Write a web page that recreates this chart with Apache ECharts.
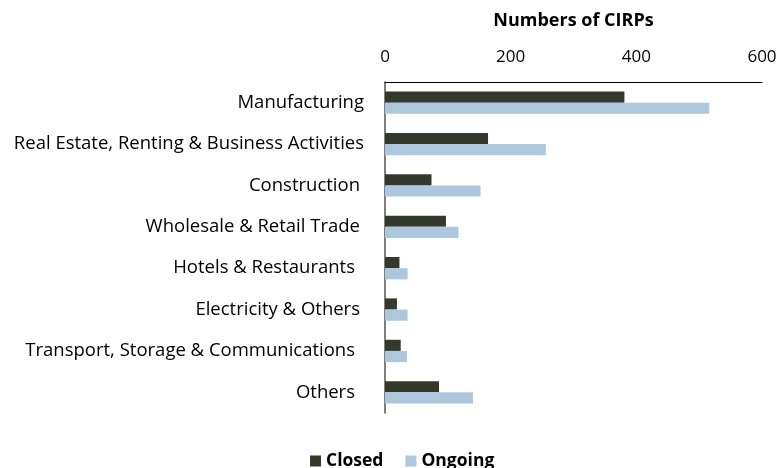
<!DOCTYPE html>
<html><head><meta charset="utf-8">
<script src="https://cdn.jsdelivr.net/npm/echarts@6/dist/echarts.min.js"></script>
<style>html,body{margin:0;padding:0;background:#fff}#c{width:779px;height:468px}</style>
</head><body><div id="c"></div>
<script>
const categories = ["Manufacturing","Real Estate, Renting & Business Activities","Construction","Wholesale & Retail Trade","Hotels & Restaurants","Electricity & Others","Transport, Storage & Communications","Others"];
const closed = [381, 164, 74, 97, 23, 19, 25, 86];
const ongoing = [516, 256, 152, 117, 36, 36, 35, 140];
const xTicks = [0, 200, 400, 600];
// label right-indent style keys (styling only)
const labelStyleKey = ['a','a','b','b','c','b','c','c'];
const FONT = "Open Sans";
const LFS = 18.5;
const chart = echarts.init(document.getElementById('c'));
chart.setOption({
  animation: false,
  textStyle: {fontFamily: FONT},
  grid: {left: 385, right: 17, top: 82, bottom: 55, containLabel: false, outerBoundsMode: 'none'},
  legend: {
    top: 447, left: 305, itemWidth: 11, itemHeight: 11, itemGap: 22,
    icon: 'rect',
    textStyle: {fontFamily: FONT, fontSize: 17.5, fontWeight: 'bold', color: '#000'},
    data: ['Closed','Ongoing']
  },
  xAxis: {
    type: 'value', position: 'top', min: xTicks[0], max: xTicks[xTicks.length-1], interval: xTicks[1]-xTicks[0],
    name: 'Numbers of CIRPs', nameLocation: 'middle', nameGap: 52,
    nameTextStyle: {fontFamily: FONT, fontSize: 18, fontWeight: 'bold', color: '#000'},
    axisLine: {show: true, lineStyle: {color: '#000', width: 1}},
    axisTick: {show: false},
    splitLine: {show: false},
    axisLabel: {fontFamily: FONT, fontSize: 17, color: '#000', margin: 16}
  },
  yAxis: {
    type: 'category', inverse: true, data: categories,
    axisLine: {show: true, lineStyle: {color: '#555', width: 1.5}},
    axisTick: {show: false},
    axisLabel: {
      fontFamily: FONT, fontSize: LFS, color: '#000', margin: 21,
      formatter: function (v, i) { return '{' + labelStyleKey[i] + '|' + v + '}'; },
      rich: {
        a: {fontFamily: FONT, fontSize: LFS, color: '#000', padding: [0, 0, 0, 0]},
        b: {fontFamily: FONT, fontSize: LFS, color: '#000', padding: [0, 4, 0, 0]},
        c: {fontFamily: FONT, fontSize: LFS, color: '#000', padding: [0, 9, 0, 0]}
      }
    }
  },
  series: [
    {name: 'Closed', type: 'bar', data: closed, barGap: '0%', barCategoryGap: '46%',
     itemStyle: {color: '#333a2b'}},
    {name: 'Ongoing', type: 'bar', data: ongoing,
     itemStyle: {color: '#adc8de'}}
  ]
});
</script></body></html>
